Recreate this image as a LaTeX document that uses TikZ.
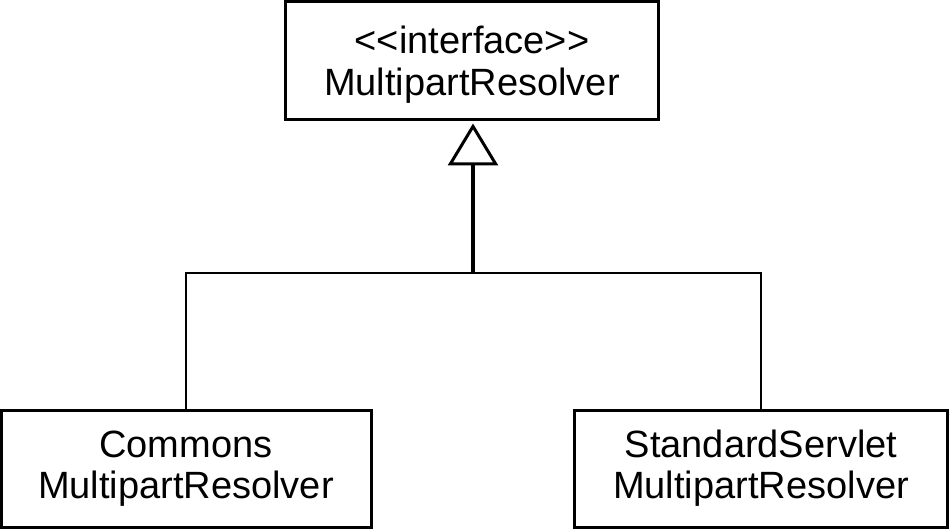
\documentclass[tikz,border=0pt]{standalone}
\usepackage{fontspec}
\setmainfont{Liberation Sans}[Ligatures=TeXOff]
\usetikzlibrary{arrows.meta}
\tikzset{
  classbox/.style={draw, line width=3pt, inner sep=0pt, align=center,
    font=\fontsize{38}{41}\selectfont},
  link/.style={line width=2.4pt},
}
\begin{document}
\begin{tikzpicture}[x=1pt,y=1pt]
\useasboundingbox (0,0) rectangle (950,-529);
\node[classbox, minimum width=373pt, minimum height=118pt] (iface) at (472,-61) {};
\node[font=\fontsize{38}{42}\selectfont, align=center, inner sep=0pt] (ifacetext)
  at ([yshift=-4pt]iface.center) {<<interface>>\\MultipartResolver};
\node[classbox, minimum width=370pt, minimum height=117pt] (commons) at (186,-468.5)
  {Commons\\MultipartResolver};
\node[classbox, minimum width=373pt, minimum height=117pt] (servlet) at (761,-468.5)
  {StandardServlet\\MultipartResolver};
\coordinate (junc) at ([xshift=1pt]iface.south |- 0,-273);
\draw[link] (commons.north) |- (junc) -| (servlet.north);
\draw[line width=4pt, -{Triangle[open, length=42pt, width=50pt, line width=3pt]}]
  (junc) -- ([xshift=1pt,yshift=-2pt]iface.south);
\end{tikzpicture}
\end{document}
